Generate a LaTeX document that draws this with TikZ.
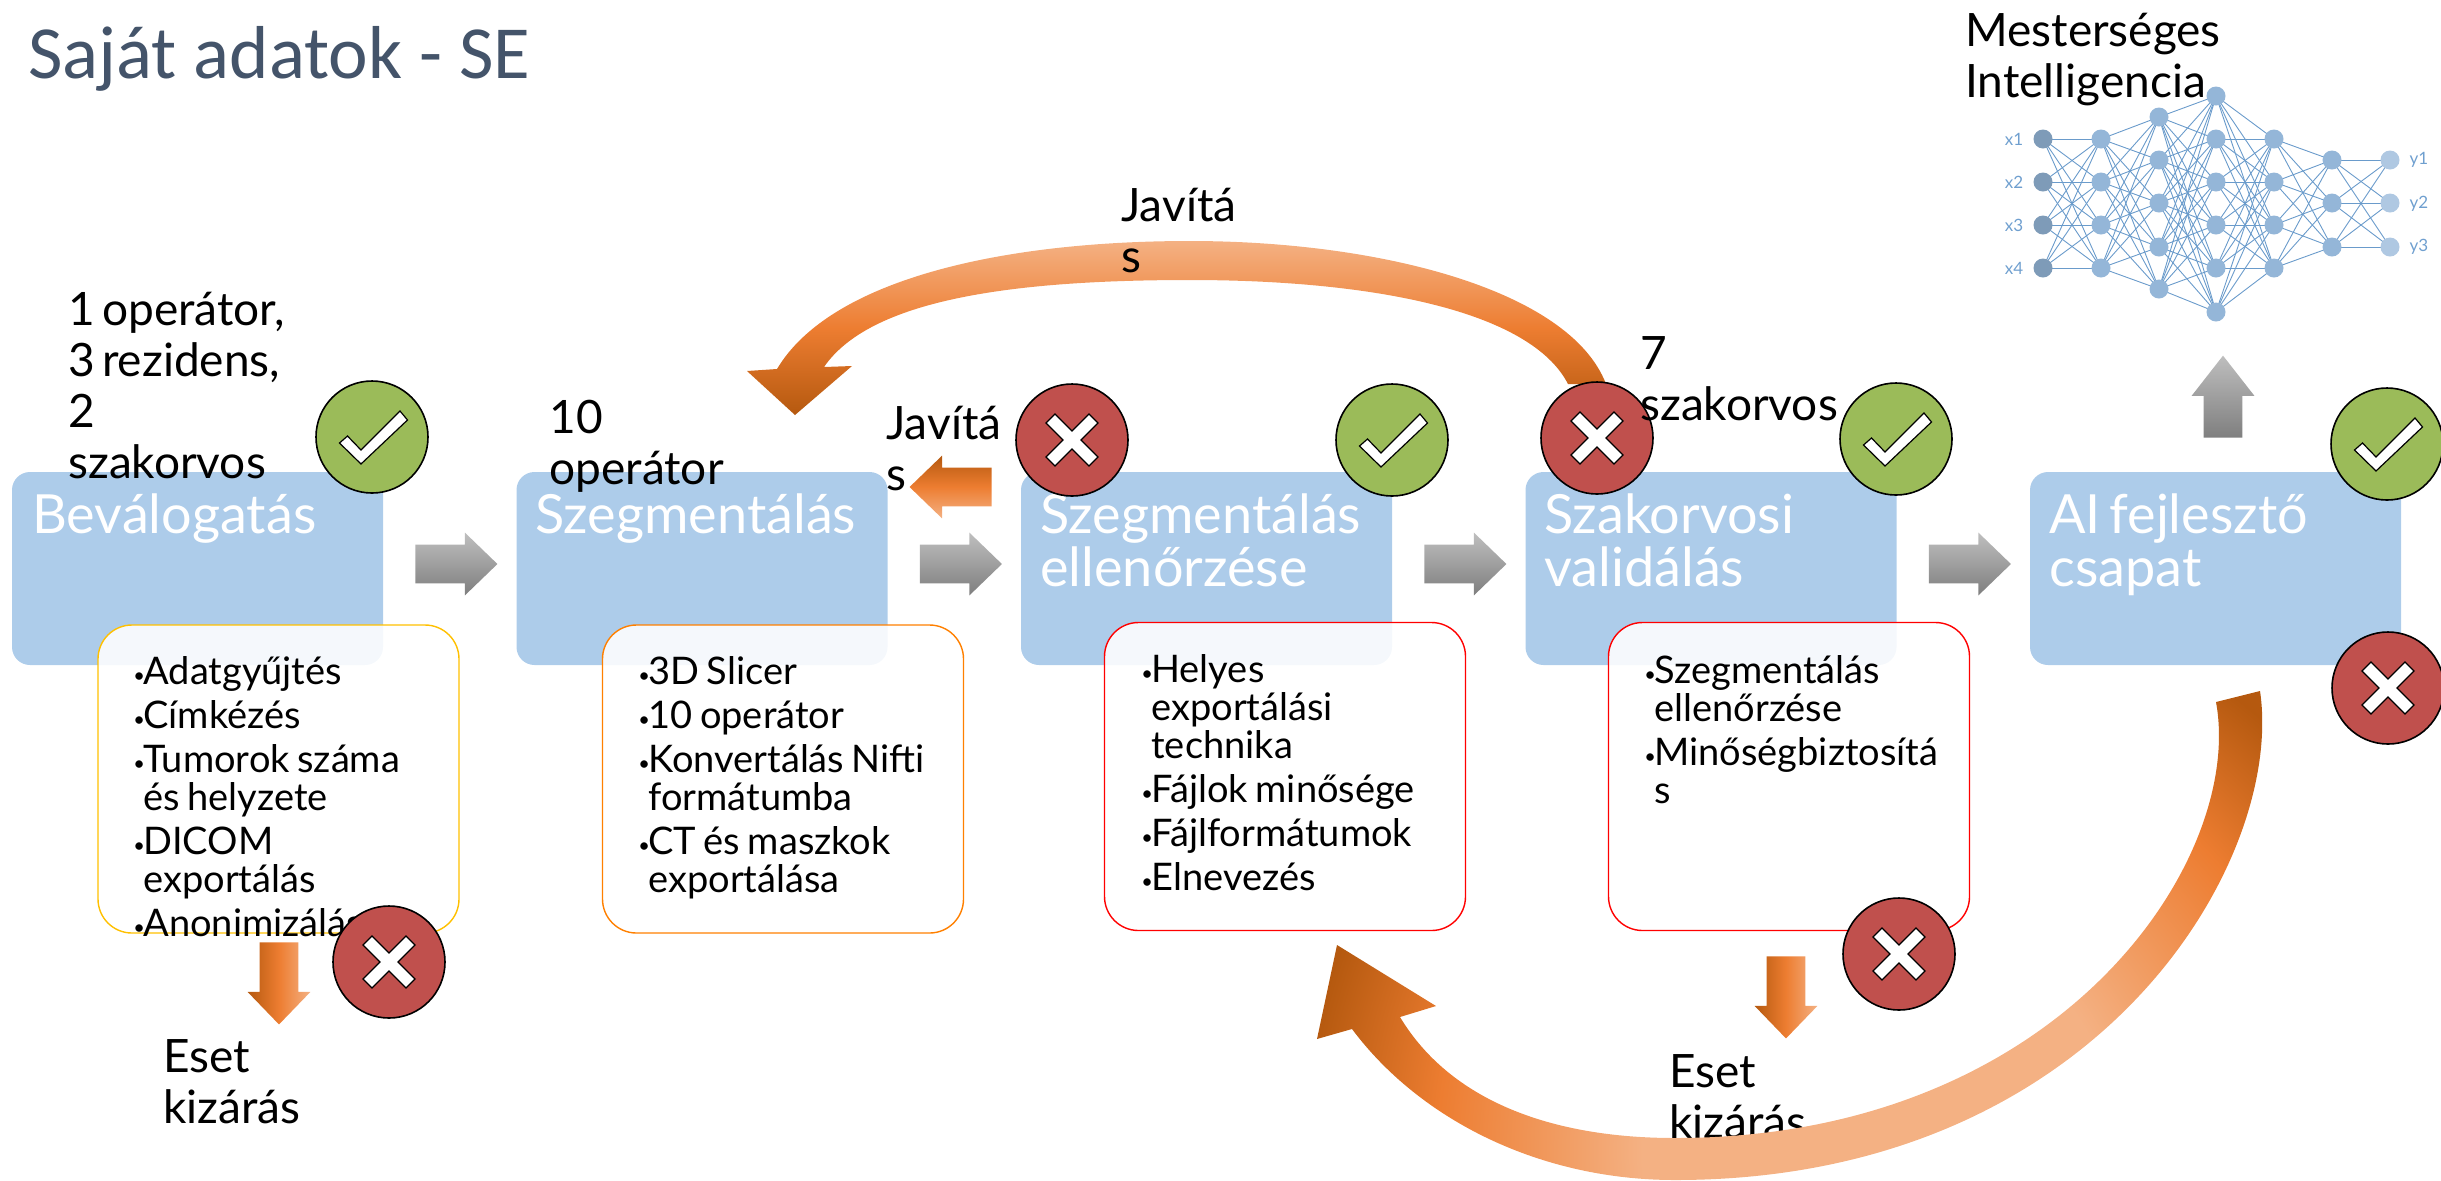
\documentclass[tikz,border=0pt]{standalone}
\usepackage{fontspec}
\setmainfont{Lato}[WordSpace=0.6]
\newfontfamily\headfont{Carlito}
\usetikzlibrary{shapes,arrows,positioning}
\definecolor{stageblue}{HTML}{ADCCEA}
\definecolor{okgreen}{HTML}{9BBB59}
\definecolor{badred}{HTML}{C0504D}
\definecolor{orangedark}{HTML}{B5590F}
\definecolor{orangemid}{HTML}{ED7D31}
\definecolor{orangelight}{HTML}{F4B183}
\definecolor{grayhi}{HTML}{BEBEBE}
\definecolor{graylo}{HTML}{7F7F7F}
\definecolor{headslate}{HTML}{44546A}
\definecolor{netline}{HTML}{6A9BCB}
\definecolor{netfill}{HTML}{94B6D8}
\definecolor{netlabel}{HTML}{6F9FCF}
\definecolor{listgold}{HTML}{FFC000}
\definecolor{listorange}{HTML}{FF8000}
\pgfdeclareradialshading{loopglow}{\pgfpointorigin}{color(0bp)=(orangelight); color(9bp)=(orangelight); color(16.75bp)=(orangemid); color(21.8bp)=(orangedark); color(50bp)=(orangedark)}
\newcommand{\bul}{\par\parskip=3pt\spaceskip=.2em\noindent\hangindent=5pt\hangafter=1\makebox[5pt][l]{\raisebox{.1ex}{\fontsize{10}{10}\selectfont\textbullet}}}
\newcommand{\okmark}[1]{\draw[markline, shift={(#1)}] (28,-26) -- (35.5,-17) -- (-11,27) -- (-32.5,6) -- (-24.5,-1) -- (-11,13) -- cycle;}
\newcommand{\badmark}[1]{\draw[markline, shift={(#1)}] (-26,-17) -- (-17,-26) -- (0,-9) -- (17,-26) -- (26,-17) -- (9,0) -- (26,17) -- (17,26) -- (0,9) -- (-17,26) -- (-26,17) -- (-9,0) -- cycle;}
\begin{document}
\begin{tikzpicture}[
    x=0.5pt, y=-0.5pt,
    stage/.style={rectangle, rounded corners=9pt, fill=stageblue, minimum width=185.5pt, minimum height=96.5pt, inner sep=0pt, outer sep=0pt},
    stagetitle/.style={anchor=base west, align=left, text=white, inner sep=0pt, font=\fontsize{27}{26.5}\selectfont},
    listbox/.style={rectangle, rounded corners=17pt, fill=white, fill opacity=0.88, line width=0.7pt, minimum width=180.5pt, minimum height=154pt, inner sep=0pt},
    listtext/.style={anchor=north west, inner sep=0pt, text width=170pt, align=left, font=\fontsize{19}{19}\selectfont},
    label/.style={anchor=base west, align=left, inner sep=0pt, font=\fontsize{23}{25.5}\selectfont},
    okdot/.style={circle, draw=black, line width=0.8pt, fill=okgreen, minimum size=56pt, inner sep=0pt},
    baddot/.style={circle, draw=black, line width=0.8pt, fill=badred, minimum size=56pt, inner sep=0pt},
    markline/.style={draw=black, fill=white, line width=0.6pt},
    blockarrow/.style={single arrow, inner xsep=0pt, inner ysep=9.5pt, minimum width=31pt, minimum height=41pt, single arrow head extend=6pt, single arrow tip angle=88, single arrow head indent=0pt},
    standingarrow/.style={blockarrow, inner xsep=9.5pt, inner ysep=0pt},
    grayarrow/.style={blockarrow, top color=grayhi, bottom color=graylo},
    fixarrow/.style={blockarrow, shape border rotate=180, top color=orangedark, bottom color=orangelight, middle color=orangemid},
    droparrow/.style={standingarrow, shape border rotate=270, left color=orangedark, right color=orangelight, middle color=orangemid},
    netnode/.style={circle, fill=netfill, minimum size=9.5pt, inner sep=0pt},
    netedge/.style={netline, line width=0.45pt},
    nettag/.style={text=netlabel, inner sep=0pt, font=\fontsize{8.5}{8.5}\selectfont}
]
\useasboundingbox (0,0) rectangle (2441,1180);

\node[anchor=base west, inner sep=0pt, text=headslate, font=\headfont\fontsize{37.5}{37.5}\selectfont] (title) at (28,78) {Saját adatok - SE};

% process stages
\node[stage] (sel) at (197.5,568.5) {};
\node[stage, right=66.75pt of sel] (seg) {};
\node[stage, right=66.75pt of seg] (chk) {};
\node[stage, right=66.75pt of chk] (val) {};
\node[stage, right=66.75pt of val] (dev) {};

\node[stagetitle] (selname) at (32,533) {Beválogatás};
\node[stagetitle] (segname) at (535,533) {Szegmentálás};
\node[stagetitle] (chkname) at (1040,586) {Szegmentálás\\ellenőrzése};
\node[stagetitle] (valname) at (1544,586) {Szakorvosi\\validálás};
\node[stagetitle] (devname) at (2049,586) {AI fejlesztő\\csapat};

\node[grayarrow, right=16pt of sel, yshift=2.25pt] (go1) {};
\node[grayarrow, right=16pt of seg, yshift=2.25pt] (go2) {};
\node[grayarrow, right=16pt of chk, yshift=2.25pt] (go3) {};
\node[grayarrow, right=16pt of val, yshift=2.25pt] (go4) {};
\node[standingarrow, shape border rotate=90, top color=grayhi, bottom color=graylo, anchor=tip, single arrow tip angle=76] (go5) at (2223,355) {};

% task lists
\node[listbox, draw=listgold] (sellist) at (278.5,779) {};
\node[listbox, draw=listorange] (seglist) at (783,779) {};
\node[listbox, draw=red] (chklist) at (1285,776.5) {};
\node[listbox, draw=red] (vallist) at (1789,776.5) {};

\node[listtext] (seltext) at (133,640) {\bul Adatgyűjtés\bul Címkézés\bul Tumorok száma\newline és helyzete\bul DICOM\newline exportálás\bul Anonimizálás\par};
\node[listtext] (segtext) at (638,640) {\bul 3D Slicer\bul 10 operátor\bul Konvertálás Nifti\newline formátumba\bul CT és maszkok\newline exportálása\par};
\node[listtext] (chktext) at (1141,638) {\bul Helyes\newline exportálási\newline technika\bul Fájlok minősége\bul Fájlformátumok\bul Elnevezés\par};
\node[listtext] (valtext) at (1644,639) {\bul Szegmentálás\newline ellenőrzése\bul Minőségbiztosítá\newline s\par};

% exclusion arrows and captions
\node[droparrow, anchor=tip] (dropsel) at (279,1025) {};
\node[droparrow, anchor=tip] (dropval) at (1786,1039) {};
\node[label] (selout) at (163,1123) {Eset\\kizárás};
\node[label] (valout) at (1669,1138) {Eset\\kizárás};

% return loops
\shade[top color=orangelight, bottom color=orangedark, middle color=orangemid]
    (1606,384) .. controls (1570,290) and (1380,241) .. (1190,241)
    .. controls (1000,241) and (830,280) .. (777,369)
    -- (747,371) -- (795,415) -- (852,366) -- (824,367)
    .. controls (870,300) and (1010,280) .. (1190,280)
    .. controls (1370,280) and (1530,310) .. (1568,384) -- cycle;
\begin{scope}
\clip (2260,691) .. controls (2285,860) and (2100,1180) .. (1675,1180)
    .. controls (1540,1180) and (1420,1120) .. (1352,1029)
    -- (1317,1039) -- (1337,945) -- (1436,1006) -- (1400,1017)
    .. controls (1450,1100) and (1550,1138) .. (1675,1138)
    .. controls (2060,1138) and (2245,860) .. (2216,702) -- cycle;
\shade[shading=loopglow] (1880,1150) circle (330pt);
\end{scope}
\node[fixarrow, anchor=tip] (fixseg) at (909,487) {};

% status badges
\node[okdot] (oksel) at (372,437) {};
\node[okdot] (okchk) at (1392,440) {};
\node[okdot] (okval) at (1896,439) {};
\node[okdot] (okdev) at (2387,444) {};
\node[baddot] (badchk) at (1072,440) {};
\node[baddot] (badval) at (1597,438) {};
\node[baddot] (baddev) at (2388,688) {};
\node[baddot] (badsel) at (389,962) {};
\node[baddot] (badlist) at (1899,954) {};
\foreach \b in {oksel,okchk,okval,okdev} {\okmark{\b}}
\foreach \b in {badchk,badval,baddev,badsel,badlist} {\badmark{\b}}

% staff and repair captions
\node[label] (selstaff) at (68,478) {1 operátor,\\3 rezidens,\\2\\szakorvos};
\node[label] (segstaff) at (549,484) {10\\operátor};
\node[label] (valstaff) at (1640,420) {7\\szakorvos};
\node[label] (fixtop) at (1121,272) {Javítá\\s};
\node[label] (fixleft) at (886,490) {Javítá\\s};
\node[label] (ailabel) at (1965,97) {Mesterséges\\Intelligencia};

% network
\foreach \l/\x/\ys in {1/2043/{139,182,225,268}, 2/2101/{139,182,225,268}, 3/2159/{117,160,203,247,289}, 4/2216/{96,139,182,225,268,312}, 5/2274/{139,182,225,268}, 6/2332/{160,203,247}, 7/2390/{160,203,247}} {
    \foreach \y [count=\i] in \ys {
        \coordinate (p\l-\i) at (\x,\y);
    }
}
\foreach \a/\na/\b/\nb in {1/4/2/4, 2/4/3/5, 3/5/4/6, 4/6/5/4, 5/4/6/3, 6/3/7/3} {
    \foreach \i in {1,...,\na} {
        \foreach \j in {1,...,\nb} {
            \draw[netedge] (p\a-\i) -- (p\b-\j);
        }
    }
}
\foreach \l/\n in {1/4, 2/4, 3/5, 4/6, 5/4, 6/3, 7/3} {
    \foreach \i in {1,...,\n} {
        \ifnum\l=1
            \node[netnode, fill=netfill!85!black] (n\l-\i) at (p\l-\i) {};
        \else\ifnum\l=7
            \node[netnode, fill=netfill!75!white] (n\l-\i) at (p\l-\i) {};
        \else
            \node[netnode] (n\l-\i) at (p\l-\i) {};
        \fi\fi
    }
}
\foreach \i in {1,...,4} {
    \node[nettag] (x\i) at (2014,139+43*\i-43) {x\i};
}
\foreach \i in {1,...,3} {
    \node[nettag] (y\i) at (2419,160+43.5*\i-43.5) {y\i};
}
\end{tikzpicture}
\end{document}
